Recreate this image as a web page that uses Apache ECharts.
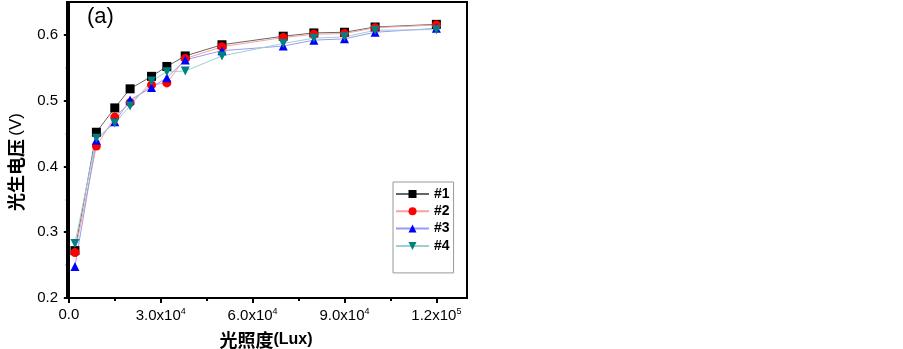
<!DOCTYPE html>
<html>
<head>
<meta charset="utf-8">
<script src="https://cdn.jsdelivr.net/npm/echarts@6/dist/echarts.min.js"></script>
<style>
  html, body { margin: 0; padding: 0; background: #fff; }
  #chart { width: 903px; height: 349px; }
</style>
</head>
<body>
<div id="chart"></div>
<script>
// illuminance (Lux)
var lux = [2000, 9000, 15000, 20000, 27000, 32000, 38000, 50000, 70000, 80000, 90000, 100000, 120000];
// photo voltage (V) per sample
var s1 = [0.272, 0.452, 0.489, 0.518, 0.537, 0.552, 0.568, 0.585, 0.598, 0.603, 0.604, 0.612, 0.616];
var s2 = [0.269, 0.431, 0.475, 0.497, 0.524, 0.527, 0.564, 0.582, 0.596, 0.601, 0.602, 0.611, 0.615];
var s3 = [0.248, 0.440, 0.468, 0.501, 0.520, 0.535, 0.562, 0.576, 0.583, 0.592, 0.594, 0.604, 0.610];
var s4 = [0.283, 0.443, 0.466, 0.492, 0.530, 0.544, 0.545, 0.568, 0.587, 0.595, 0.597, 0.607, 0.608];
var names = ['#1', '#2', '#3', '#4'];

var xMajor = [0, 30000, 60000, 90000, 120000];
var xMinor = [15000, 45000, 75000, 105000];
var yMajor = [0.2, 0.3, 0.4, 0.5, 0.6];
var yMinor = [0.25, 0.35, 0.45, 0.55];

function pairs(ys) {
  return lux.map(function (x, i) { return [x, ys[i]]; });
}

var font = '"Liberation Sans", Arial, sans-serif';
var cjk = '"Noto Sans CJK SC", "Liberation Sans", sans-serif';

function xLabel(v) {
  if (v === 0) return '0.0';
  var e = Math.floor(Math.log10(v));
  var m = (v / Math.pow(10, e)).toFixed(1);
  return m + 'x10{sup|' + e + '}';
}

var chart = echarts.init(document.getElementById('chart'), null, { renderer: 'canvas' });

var styles = [
  { sym: 'rect', color: '#000', line: '#666', rot: 0 },
  { sym: 'circle', color: '#f00', line: '#f9a0a0', rot: 0 },
  { sym: 'triangle', color: '#00f', line: '#9a9af5', rot: 0 },
  { sym: 'triangle', color: '#008080', line: '#9fd0d0', rot: 180 }
];

var allSeries = [s1, s2, s3, s4].map(function (ys, i) {
  var st = styles[i];
  return {
    name: names[i],
    type: 'line',
    data: pairs(ys),
    symbol: st.sym,
    symbolSize: 9,
    symbolRotate: st.rot,
    itemStyle: { color: st.color },
    lineStyle: { color: st.line, width: 1 },
    animation: false
  };
});

chart.setOption({
  animation: false,
  grid: {
    left: 67, right: 436, top: 2, bottom: 51,
    show: true, borderColor: '#000', borderWidth: 2
  },
  xAxis: [{
    type: 'value',
    min: -600, max: 130000,
    axisLine: { lineStyle: { color: '#000', width: 2 } },
    axisTick: { customValues: xMajor, length: 5, lineStyle: { color: '#000', width: 2 } },
    axisLabel: {
      customValues: xMajor,
      formatter: xLabel,
      fontFamily: font, fontSize: 15, color: '#000', margin: 9,
      rich: { sup: { fontFamily: font, fontSize: 9, color: '#000', verticalAlign: 'top', padding: [0, 0, 9, 0] } }
    },
    splitLine: { show: false }
  }, {
    type: 'value',
    min: -600, max: 130000,
    position: 'bottom',
    axisLine: { show: false },
    axisTick: { customValues: xMinor, length: 3, lineStyle: { color: '#000', width: 2 } },
    axisLabel: { show: false },
    splitLine: { show: false }
  }],
  yAxis: [{
    type: 'value',
    min: 0.2, max: 0.65,
    axisLine: { lineStyle: { color: '#000', width: 2 } },
    axisTick: { customValues: yMajor, length: 5, lineStyle: { color: '#000', width: 2 } },
    axisLabel: {
      customValues: yMajor,
      formatter: function (v) { return v.toFixed(1); },
      fontFamily: font, fontSize: 15, color: '#000', margin: 9
    },
    splitLine: { show: false }
  }, {
    type: 'value',
    min: 0.2, max: 0.65,
    position: 'left',
    axisLine: { show: false },
    axisTick: { customValues: yMinor, length: 3, lineStyle: { color: '#000', width: 2 } },
    axisLabel: { show: false },
    splitLine: { show: false }
  }],
  legend: {
    orient: 'vertical',
    left: 393, top: 182,
    itemWidth: 33, itemHeight: 10, itemGap: 3.3,
    padding: [5, 4, 20, 2],
    borderColor: '#999', borderWidth: 1,
    textStyle: { fontFamily: font, fontSize: 14, fontWeight: 'bold', color: '#000' },
    data: names
  },
  graphic: [{
    type: 'text', left: 87, top: 6,
    style: { text: '(a)', fontFamily: font, fontSize: 22, fill: '#000' }
  }, {
    type: 'text', x: 16, y: 162, rotation: Math.PI / 2,
    style: {
      text: '{c|光生电压} {l|(V)}',
      align: 'center', verticalAlign: 'middle',
      rich: {
        c: { fontFamily: cjk, fontSize: 18, fontWeight: 'bold', fill: '#000' },
        l: { fontFamily: font, fontSize: 17, fill: '#000' }
      }
    }
  }, {
    type: 'text', x: 266, y: 340,
    style: {
      text: '{c|光照度}{l|(Lux)}',
      align: 'center', verticalAlign: 'middle',
      rich: {
        c: { fontFamily: cjk, fontSize: 18, fontWeight: 'bold', fill: '#000' },
        l: { fontFamily: font, fontSize: 16, fontWeight: 'bold', fill: '#000' }
      }
    }
  }],
  series: allSeries
});
</script>
</body>
</html>
